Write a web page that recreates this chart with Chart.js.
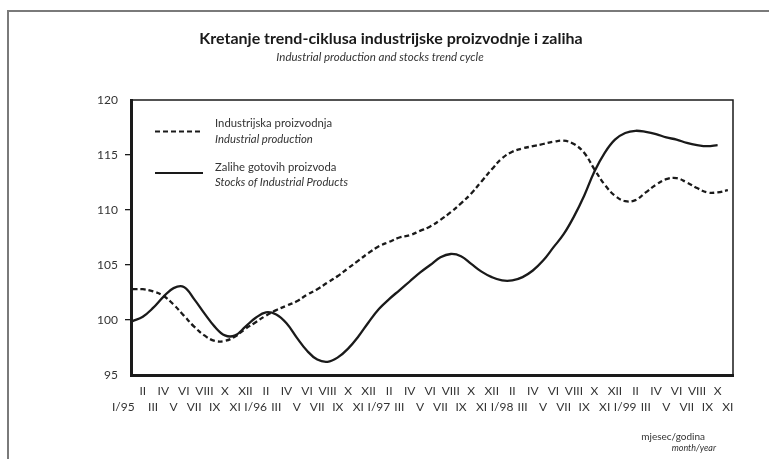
<!DOCTYPE html>
<html>
<head>
<meta charset="utf-8">
<script src="https://cdn.jsdelivr.net/npm/chart.js@4"></script>
<style>
html,body{margin:0;padding:0;background:#fff;}
#wrap{position:relative;width:769px;height:459px;overflow:hidden;font-family:Lato,"Open Sans",sans-serif;color:#222;}
#frameTop{position:absolute;left:7px;top:10px;width:762px;height:2px;background:#7a7a7a;}
#frameLeft{position:absolute;left:7px;top:10px;width:2px;height:449px;background:#7a7a7a;}
canvas{position:absolute;left:0;top:0;}
.t{position:absolute;white-space:nowrap;line-height:1;}
</style>
</head>
<body>
<div id="wrap">
  <div id="frameTop"></div>
  <div id="frameLeft"></div>
  <canvas id="c" width="769" height="459"></canvas>
  <div class="t" style="left:0;width:782px;text-align:center;top:30px;font-size:16px;font-weight:bold;color:#1a1a1a;">Kretanje trend-ciklusa industrijske proizvodnje i zaliha</div>
  <div class="t" style="left:0;width:760px;text-align:center;top:51px;font-size:11.5px;font-style:italic;color:#333;">Industrial production and stocks trend cycle</div>

  <svg style="position:absolute;left:0;top:0;" width="769" height="459">
    <line x1="155" y1="131.5" x2="203" y2="131.5" stroke="#1a1a1a" stroke-width="2.2" stroke-dasharray="5,3"/>
    <line x1="155" y1="173" x2="203" y2="173" stroke="#1a1a1a" stroke-width="2.2"/>
  </svg>
  <div class="t" style="left:215px;top:117px;font-size:11.3px;color:#333;">Industrijska proizvodnja</div>
  <div class="t" style="left:215px;top:133px;font-size:11.3px;font-style:italic;color:#333;">Industrial production</div>
  <div class="t" style="left:215px;top:161px;font-size:11.3px;color:#333;">Zalihe gotovih proizvoda</div>
  <div class="t" style="left:215px;top:176px;font-size:11.3px;font-style:italic;color:#333;">Stocks of Industrial Products</div>

  <div class="t" style="right:64px;top:431px;font-size:10px;color:#333;">mjesec/godina</div>
  <div class="t" style="right:53px;top:443px;font-size:9px;font-style:italic;color:#333;">month/year</div>
</div>
<script>
const monthLabels = [
  'I/95','II','III','IV','V','VI','VII','VIII','IX','X','XI','XII',
  'I/96','II','III','IV','V','VI','VII','VIII','IX','X','XI','XII',
  'I/97','II','III','IV','V','VI','VII','VIII','IX','X','XI','XII',
  'I/98','II','III','IV','V','VI','VII','VIII','IX','X','XI','XII',
  'I/99','II','III','IV','V','VI','VII','VIII','IX','X','XI'
];
const industrialProduction = [
  102.8,102.8,102.6,102.2,101.4,100.4,99.4,98.6,98.1,98.1,98.5,99.2,
  99.8,100.4,100.9,101.3,101.7,102.3,102.8,103.4,104.0,104.7,105.4,106.1,
  106.7,107.1,107.5,107.7,108.1,108.5,109.1,109.8,110.6,111.5,112.6,113.7,
  114.7,115.3,115.6,115.8,116.0,116.2,116.3,116.0,115.2,113.7,112.3,111.3,
  110.8,110.9,111.6,112.3,112.8,112.9,112.5,112.0,111.6,111.6,111.8
];
const stocks = [
  99.9,100.3,101.1,102.1,102.9,103.0,101.9,100.6,99.4,98.6,98.6,99.4,
  100.2,100.7,100.5,99.7,98.4,97.2,96.4,96.2,96.6,97.4,98.5,99.8,
  101.0,101.9,102.7,103.5,104.3,105.0,105.7,106.0,105.8,105.1,104.4,103.9,
  103.6,103.6,103.9,104.5,105.4,106.6,107.8,109.4,111.3,113.5,115.2,116.4,
  117.0,117.2,117.1,116.9,116.6,116.4,116.1,115.9,115.8,115.9,null
];
const yTicks = [95,100,105,110,115,120];

const FONT = 'Lato, "Open Sans", sans-serif';
const INK = '#1a1a1a';

const boxPlugin = {
  id: 'boxPlugin',
  afterDraw(chart) {
    const a = chart.chartArea, ctx = chart.ctx;
    ctx.save();
    ctx.strokeStyle = INK;
    ctx.lineWidth = 1.5;
    ctx.beginPath();
    ctx.moveTo(a.left, a.top);
    ctx.lineTo(a.right, a.top);
    ctx.lineTo(a.right, a.bottom);
    ctx.stroke();
    ctx.restore();
  }
};

new Chart(document.getElementById('c'), {
  type: 'line',
  data: {
    datasets: [
      {
        label: 'Industrijska proizvodnja',
        data: industrialProduction.map((v, i) => ({x: i, y: v})),
        borderColor: INK, borderWidth: 2.3, borderDash: [5, 3],
        pointRadius: 0, tension: 0.4, fill: false
      },
      {
        label: 'Zalihe gotovih proizvoda',
        data: stocks.map((v, i) => ({x: i, y: v})),
        borderColor: INK, borderWidth: 2.3,
        pointRadius: 0, tension: 0.4, fill: false, spanGaps: false
      }
    ]
  },
  options: {
    responsive: false,
    animation: false,
    layout: {padding: {left: 0, right: 36, top: 100, bottom: 0}},
    plugins: {legend: {display: false}, tooltip: {enabled: false}, title: {display: false}},
    scales: {
      x: {
        type: 'linear', min: -0.15, max: 58.5,
        afterBuildTicks: s => { s.ticks = monthLabels.map((_, i) => ({value: i})); },
        afterFit: s => { s.height = 84; },
        grid: {display: true, drawOnChartArea: false, drawTicks: false},
        border: {display: true, color: INK, width: 3},
        ticks: {
          autoSkip: false, maxRotation: 0, minRotation: 0, padding: 8,
          color: '#333', font: {family: FONT, size: 12, lineHeight: '16px'},
          callback: (v) => {
            let lab = monthLabels[v];
            if (lab === undefined) return '';
            if (v === 0) lab = lab + '\u00a0\u00a0\u00a0\u00a0\u00a0\u00a0';
            return v % 2 === 0 ? ['', lab] : [lab, ''];
          }
        }
      },
      y: {
        min: 95, max: 120,
        afterBuildTicks: s => { s.ticks = yTicks.map(v => ({value: v})); },
        afterFit: s => { s.width = 131; },
        grid: {
          drawOnChartArea: false, drawTicks: true, tickLength: 6, lineWidth: 1.3,
          color: c => (c.tick && (c.tick.value === 95 || c.tick.value === 120)) ? 'rgba(0,0,0,0)' : INK
        },
        border: {display: true, color: INK, width: 3},
        ticks: {padding: 7, color: '#333', font: {family: FONT, size: 12}}
      }
    }
  },
  plugins: [boxPlugin]
});
</script>
</body>
</html>
